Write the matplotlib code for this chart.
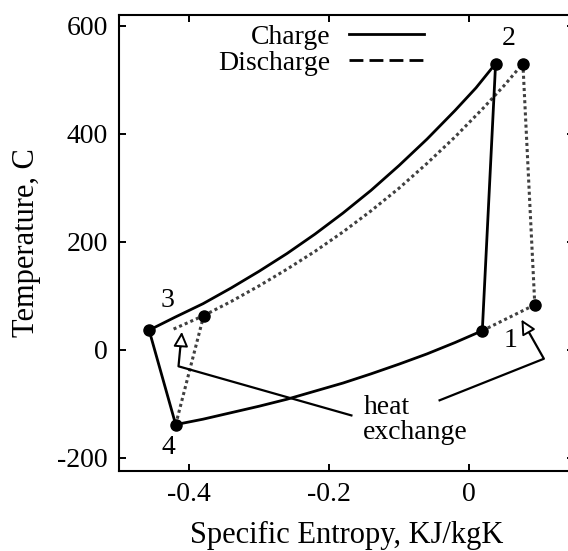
import numpy as np
import matplotlib
matplotlib.use("Agg")
import matplotlib.pyplot as plt
from matplotlib.lines import Line2D

plt.rcParams['font.family'] = ['Liberation Serif', 'DejaVu Serif']

# charge cycle
hot_s = [-0.457, -0.42, -0.38, -0.34, -0.30, -0.26, -0.22, -0.18, -0.14,
         -0.10, -0.06, -0.02, 0.01, 0.038]
hot_T = [36, 60, 85, 114, 145, 178, 214, 253, 295, 341, 390, 443, 485, 530]
comp_s = [0.038, 0.019]
comp_T = [530, 35]
cold_s = [-0.419, -0.38, -0.34, -0.30, -0.26, -0.22, -0.18, -0.14, -0.10,
          -0.06, -0.02, 0.019]
cold_T = [-139, -129, -117, -105, -92, -77, -62, -45, -27, -8, 13, 35]
exp_s = [-0.457, -0.419]
exp_T = [36, -139]
charge_pts_s = [0.038, 0.019, -0.457, -0.419]
charge_pts_T = [530, 35, 36, -139]

# discharge cycle
dhot_s = [-0.379, -0.34, -0.30, -0.26, -0.22, -0.18, -0.14, -0.10, -0.06,
          -0.02, 0.02, 0.05, 0.077]
dhot_T = [63, 89, 118, 149, 182, 218, 257, 299, 345, 394, 447, 489, 530]
dturb_s = [0.077, 0.094]
dturb_T = [530, 83]
dhx1_s = [0.019, 0.094]
dhx1_T = [35, 83]
dcomp_s = [-0.419, -0.379]
dcomp_T = [-139, 63]
dhx3_s = [-0.422, -0.379]
dhx3_T = [38, 63]
discharge_pts_s = [0.077, 0.094, -0.379]
discharge_pts_T = [530, 83, 63]

fig = plt.figure(figsize=(5.68, 5.51), dpi=100)
ax = fig.add_axes([119/568, 80/551, 455/568, 456/551])

lw = 2.0
for s, T in [(hot_s, hot_T), (comp_s, comp_T), (cold_s, cold_T), (exp_s, exp_T)]:
    ax.plot(s, T, color='black', lw=lw, zorder=3, solid_joinstyle='round')

dot = dict(color='#404040', lw=2.2, ls=(0, (1, 1)), zorder=2)
for s, T in [(dhot_s, dhot_T), (dturb_s, dturb_T), (dhx1_s, dhx1_T),
             (dcomp_s, dcomp_T), (dhx3_s, dhx3_T)]:
    ax.plot(s, T, **dot)

ax.plot(charge_pts_s, charge_pts_T, 'o', color='black', ms=8, zorder=4)
ax.plot(discharge_pts_s, discharge_pts_T, 'o', color='black', ms=8, zorder=4)

fs = 20
ax.text(0.057, 576, '2', fontsize=fs, ha='center', va='center')
ax.text(0.059, 17, '1', fontsize=fs, ha='center', va='center')
ax.text(-0.43, 91, '3', fontsize=fs, ha='center', va='center')
ax.text(-0.43, -181, '4', fontsize=fs, ha='center', va='center')

ax.text(-0.151, -130, 'heat\nexchange', fontsize=fs, ha='left', va='center',
        linespacing=1.0)

# heat exchange arrows
ax.plot([-0.168, -0.415, -0.412], [-122, -31, 10], color='black', lw=1.6)
ax.annotate('', xy=(-0.410, 38), xytext=(-0.412, 0),
            arrowprops=dict(arrowstyle='-|>', color='black', lw=1.4,
                            fc='white', mutation_scale=22))
ax.plot([-0.042, 0.107, 0.083], [-94, -17, 38], color='black', lw=1.6)
ax.annotate('', xy=(0.073, 60), xytext=(0.087, 28),
            arrowprops=dict(arrowstyle='-|>', color='black', lw=1.4,
                            fc='white', mutation_scale=22))

handles = [Line2D([], [], color='black', lw=lw),
           Line2D([], [], color='black', lw=lw, ls=(0, (5, 2.2)))]
ax.legend(handles, ['Charge', 'Discharge'], loc='upper right',
          bbox_to_anchor=(0.676, 0.985), frameon=False, markerfirst=False,
          fontsize=fs, handlelength=2.7, handletextpad=0.65,
          labelspacing=0.0, borderpad=0.1, borderaxespad=0.0)

ax.set_xlim(-0.5, 0.15)
ax.set_ylim(-225, 620)
ax.set_xticks([-0.4, -0.2, 0])
ax.set_xticklabels(['-0.4', '-0.2', '0'])
ax.set_yticks([-200, 0, 200, 400, 600])
ax.set_yticklabels(['-200', '0', '200', '400', '600'])
ax.tick_params(direction='in', length=5, width=1.4, labelsize=fs,
               top=True, right=True, pad=8)
for sp in ax.spines.values():
    sp.set_linewidth(1.5)

ax.set_xlabel('Specific Entropy, KJ/kgK', fontsize=22, labelpad=10)
ax.set_ylabel('Temperature, C', fontsize=22, labelpad=12)

fig.savefig('out.png', dpi=100)
